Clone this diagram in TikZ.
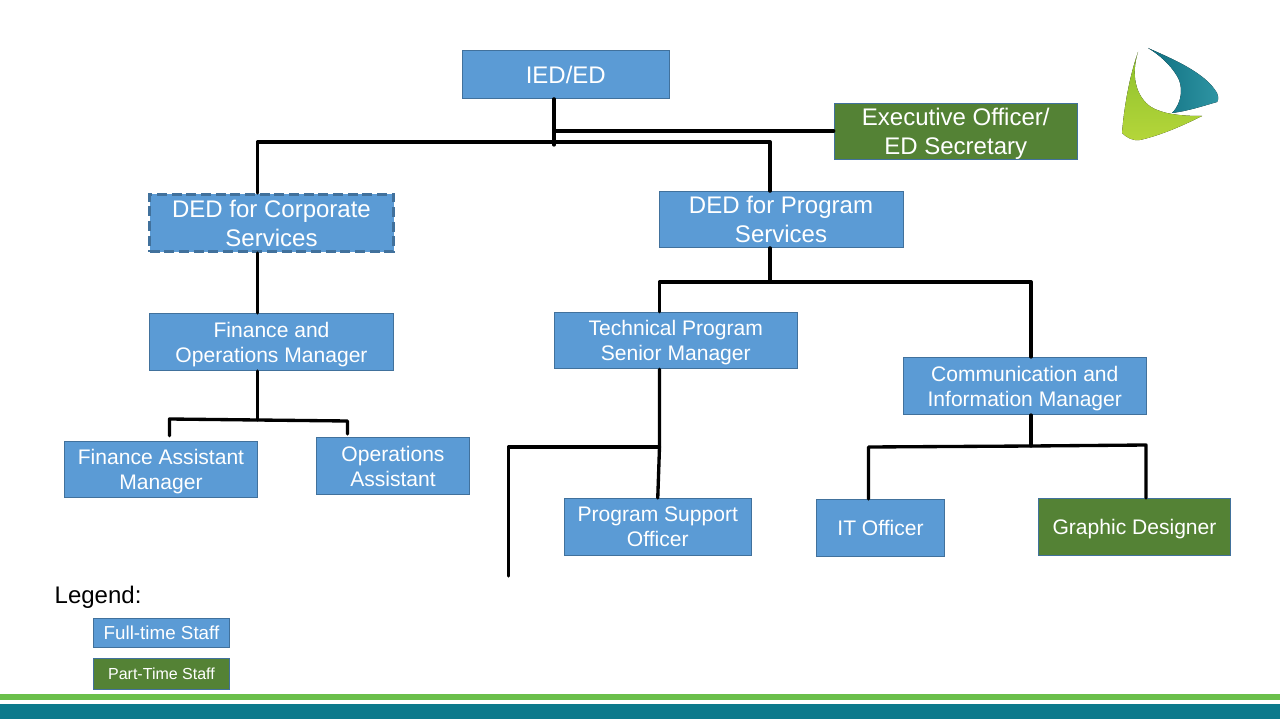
\documentclass[tikz,border=0pt]{standalone}
\usepackage{fontspec}
\setmainfont{Liberation Sans}
\definecolor{StaffBlue}{HTML}{5B9BD5}
\definecolor{StaffEdge}{HTML}{41719C}
\definecolor{PartGreen}{HTML}{548235}
\definecolor{BarGreen}{HTML}{6ABF4B}
\definecolor{BarTeal}{HTML}{0C7A8C}
\definecolor{LogoLime}{HTML}{B5D63A}
\definecolor{LogoLeaf}{HTML}{8CC02C}
\definecolor{LogoTeal}{HTML}{2F95A3}
\definecolor{LogoDeep}{HTML}{0F6E80}
\tikzset{
    post/.style={draw=StaffEdge, semithick, fill=StaffBlue, text=white, align=center, inner sep=0pt, text depth=0pt, font=\fontsize{15.8}{18.8}\selectfont},
    bigpost/.style={post, font=\fontsize{18}{21.5}\selectfont},
    part/.style={fill=PartGreen},
    vacant/.style={dash pattern=on 7.5pt off 3.5pt, line width=2pt},
    link/.style={line width=2.5pt, black, line cap=round, line join=round},
}
\begin{document}
\begin{tikzpicture}[x=0.75pt, y=-0.75pt]
    \useasboundingbox (0, 0) rectangle (1280, 720);

    % footer bars
    \fill[color=BarGreen] (0, 694) rectangle (1280, 700);
    \fill[color=BarTeal] (0, 703.5) rectangle (1280, 719);

    % logo
    \fill[top color=LogoLeaf, bottom color=LogoLime] (1138, 52) .. controls (1129, 78) and (1124, 108) .. (1122, 133) .. controls (1127, 138) and (1133, 141) .. (1140, 140) .. controls (1162, 135) and (1184, 125) .. (1202, 116) .. controls (1180, 116) and (1163, 114) .. (1151, 107) .. controls (1135, 96) and (1131, 74) .. (1138, 52) -- cycle;
    \fill[left color=LogoDeep, right color=LogoTeal] (1148, 48) .. controls (1170, 58) and (1205, 72) .. (1217, 93) .. controls (1219, 98) and (1218, 101) .. (1217, 102) .. controls (1203, 106) and (1188, 111) .. (1172, 113) .. controls (1183, 102) and (1183, 85) .. (1177, 76) .. controls (1170, 64) and (1158, 54) .. (1148, 48) -- cycle;

    % posts
    \node[bigpost, minimum width=155.5pt, minimum height=36pt] (ied) at (565.75, 74.5) {IED/ED};
    \node[bigpost, part, minimum width=182.5pt, minimum height=42.5pt] (secretary) at (955.75, 131.5) {Executive Officer/\\ED Secretary};
    \node[bigpost, vacant, minimum width=183pt, minimum height=43pt] (corporate) at (271.5, 223) {DED for Corporate\\Services};
    \node[bigpost, minimum width=183pt, minimum height=42pt] (program) at (781, 219.5) {DED for Program\\Services};
    \node[post, minimum width=183pt, minimum height=43pt] (finance) at (271.5, 342) {Finance and\\Operations Manager};
    \node[post, minimum width=182.5pt, minimum height=42.5pt] (technical) at (675.75, 340.5) {Technical Program\\Senior Manager};
    \node[post, minimum width=182.5pt, minimum height=43pt] (communication) at (1024.75, 386) {Communication and\\Information Manager};
    \node[post, minimum width=145pt, minimum height=42.5pt] (assistant) at (161, 469.5) {Finance Assistant\\Manager};
    \node[post, minimum width=115pt, minimum height=43pt] (operations) at (393, 466) {Operations\\Assistant};
    \node[post, minimum width=140.5pt, minimum height=43pt] (support) at (657.75, 527) {Program Support\\Officer};
    \node[post, minimum width=96pt, minimum height=43pt] (itofficer) at (880.5, 528) {IT Officer};
    \node[post, part, minimum width=144pt, minimum height=43pt] (designer) at (1134.5, 527) {Graphic Designer};

    % joints
    \coordinate (iedend) at (554, 145);
    \coordinate (topleft) at (257.5, 142);
    \coordinate (topright) at (770, 142);
    \coordinate (secjoin) at (554, 131);
    \coordinate (finjoin) at (257.5, 420);
    \coordinate (finleft) at (169.5, 419);
    \coordinate (finright) at (347.5, 421);
    \coordinate (progleft) at (659.5, 282);
    \coordinate (progmid) at (770, 282);
    \coordinate (progright) at (1031, 282);
    \coordinate (techjoin) at (659.5, 447);
    \coordinate (techleft) at (508.5, 447);
    \coordinate (techend) at (508.5, 576);
    \coordinate (commjoin) at (1031, 446);
    \coordinate (commleft) at (868.5, 447);
    \coordinate (commright) at (1146, 445);

    % connectors
    \draw[link] (ied.south -| iedend) -- (iedend);
    \draw[link] (secjoin) -- (secretary.west |- secjoin);
    \draw[link] (corporate.north -| topleft) -- (topleft) -- (topright) -- (program.north -| topright);
    \draw[link] (corporate.south -| topleft) -- (finance.north -| topleft);
    \draw[link] (finance.south -| finjoin) -- (finjoin);
    \draw[link] (assistant.north -| finleft) ++(0, -5) -- (finleft) -- (finjoin) -- (finright) -- ([yshift=2.25pt]operations.north -| finright);
    \draw[link] (program.south -| progmid) -- (progmid);
    \draw[link] (technical.north -| progleft) -- (progleft) -- (progright) -- (communication.north -| progright);
    \draw[link] (technical.south -| techjoin) -- (techjoin) -- (support.north);
    \draw[link] (techjoin) -- (techleft) -- (techend);
    \draw[link] (communication.south -| commjoin) -- (commjoin);
    \draw[link] (itofficer.north -| commleft) -- (commleft) -- (commjoin) -- (commright) -- (designer.north -| commright);

    % legend
    \node[anchor=west, font=\fontsize{18}{21}\selectfont] (legend) at (50, 597) {Legend:};
    \node[post, minimum width=102pt, minimum height=21.5pt, font=\fontsize{14.1}{16}\selectfont] (fulltime) at (161.5, 633) {Full-time Staff};
    \node[post, part, minimum width=102pt, minimum height=23pt, font=\fontsize{12}{14}\selectfont] (parttime) at (161.5, 674) {Part-Time Staff};
\end{tikzpicture}
\end{document}
